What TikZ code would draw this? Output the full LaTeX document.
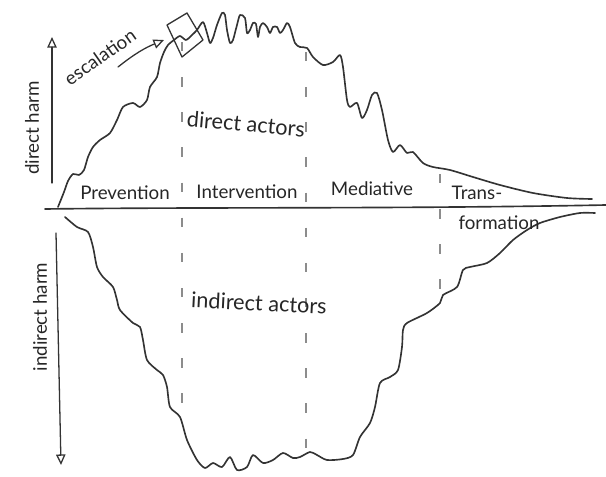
\documentclass[tikz,border=0pt]{standalone}
\usepackage{fontspec}
\setmainfont{Lato}
\usetikzlibrary{arrows.meta}

\begin{document}
\begin{tikzpicture}[
    x=0.03cm,y=-0.03cm,
    pen/.style={draw=black!80,line width=1.4pt,line cap=round,line join=round},
    phase/.style={draw=black!45,line width=0.9pt,dash pattern=on 8pt off 22pt},
    harm/.style={pen,line width=1.1pt,-{Triangle[open,length=9pt,width=8pt]}},
    lbl/.style={font=\fontsize{16}{18}\selectfont,text=black!85,inner sep=1pt},
    actors/.style={lbl,font=\fontsize{18.5}{20}\selectfont},
]
    \useasboundingbox (0,0) rectangle (606,477);

    % ground line
    \draw[pen] (45,209) .. controls (200,207) and (400,209) .. (606,205);

    % phase borders
    \draw[phase] (182,42) -- (182,425);
    \draw[phase] (306,52) -- (306,452);
    \draw[phase] (440,174) -- (440,297);

    % direct harm curve
    \draw[pen] plot[smooth,tension=0.45] coordinates {
        (58,207) (64,192) (68,181) (73,174) (79,175) (84,170) (88,157)
        (93,147) (100,140) (110,133) (117,120) (123,107) (133,103)
        (140,107) (147,100) (150,87) (157,77) (160,63) (164,52) (168,45)
        (174,40) (180,36) (186,40) (192,35) (197,30) (203,22) (207,33)
        (210,43) (213,38) (217,25) (222,13) (225,15) (227,30) (230,43)
        (233,40) (237,25) (240,15) (245,18) (247,33) (250,30) (253,23)
        (256,24) (258,37) (260,27) (263,23) (267,27) (270,33) (273,27)
        (277,27) (280,33) (283,30) (287,23) (290,27) (295,43) (300,47)
        (307,48) (313,57) (323,65) (333,62) (340,55) (343,67) (347,100)
        (350,107) (357,103) (362,118) (367,110) (372,95) (377,93)
        (382,110) (388,140) (393,152) (400,145) (407,153) (413,152)
        (423,163) (433,167) (450,170) (473,177) (500,185) (533,193)
        (567,198) (592,199)};

    % indirect harm curve
    \draw[pen] plot[smooth,tension=0.45] coordinates {
        (65,217) (77,227) (88,232) (93,247) (97,267) (103,277) (113,287)
        (117,300) (120,310) (133,323) (140,327) (143,340) (147,360)
        (157,370) (163,375) (167,387) (170,407) (180,417) (187,440)
        (197,460) (205,468) (213,463) (222,467) (230,457) (237,470)
        (247,467) (253,455) (263,463) (273,460) (283,453) (293,458)
        (300,457) (310,452) (317,455) (327,460) (343,459) (353,455)
        (360,437) (370,423) (375,407) (380,383) (390,377) (398,370)
        (402,347) (403,330) (407,323) (427,313) (440,303) (443,295)
        (457,287) (463,270) (470,267) (487,263) (500,253) (513,240)
        (527,230) (540,223) (560,217) (580,213) (595,213)};

    % escalation box
    \draw[pen,line width=1.1pt] (167,25) -- (187,13) -- (203,40) -- (182,57) -- cycle;

    % axes
    \coordinate (dh0) at (52,183);
    \coordinate (dh1) at (52,37);
    \coordinate (ih0) at (56,233);
    \coordinate (ih1) at (61,465);
    \draw[harm] (dh0) -- (dh1);
    \draw[harm] (ih0) -- (ih1);
    \node[lbl,rotate=90] (dharm) at (32,128) {direct harm};
    \node[lbl,rotate=90] (iharm) at (40,317) {indirect harm};

    % escalation
    \node[lbl,rotate=35] (esc) at (100,57) {escalation};
    \coordinate (esc0) at (118,67);
    \coordinate (esc1) at (164,40);
    \draw[harm] (esc0) to[bend left=8] (esc1);

    \node[actors,rotate=-5] (dact) at (246,124) {direct actors};
    \node[actors,rotate=-3] (iact) at (259,303) {indirect actors};

    % phases
    \node[lbl] (prev) at (125,193) {Prevention};
    \node[lbl] (interv) at (247,192) {Intervention};
    \node[lbl] (med) at (372,189) {Mediative};
    \node[lbl] (trans) at (477,193) {Trans-};
    \node[lbl] (form) at (499,223) {formation};
\end{tikzpicture}
\end{document}
